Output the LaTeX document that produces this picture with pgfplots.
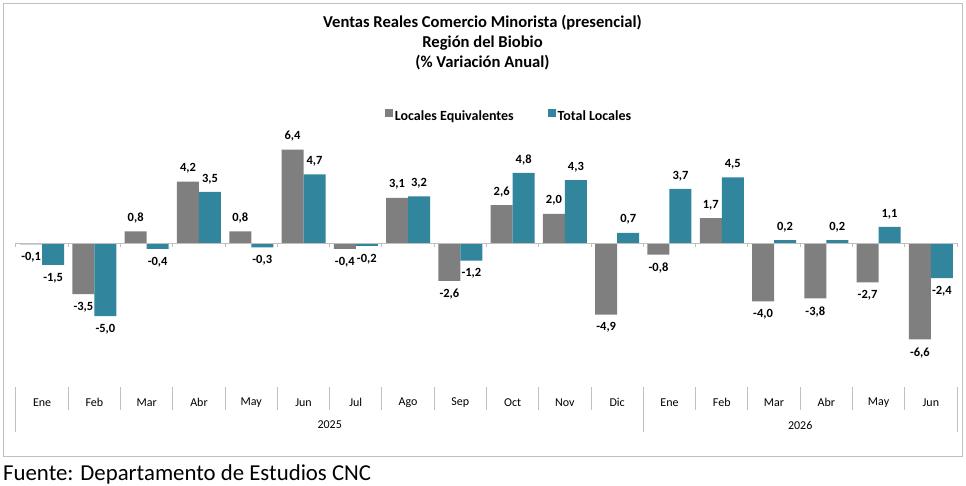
\documentclass[border=0pt]{standalone}
\usepackage{fontspec}
\setmainfont{Carlito}
\usepackage{pgfplots}
\pgfplotsset{compat=1.18}
\definecolor{cgray}{HTML}{7F7F7F}
\definecolor{cteal}{HTML}{31859C}
\definecolor{cline}{HTML}{BFBFBF}
\begin{document}
\begin{tikzpicture}[x=1pt,y=1pt]
\useasboundingbox (0,0) rectangle (966,-485);
\draw[color=cline, line width=1pt] (3,-3) rectangle (962,-456);
\node[font=\bfseries\fontsize{16.6}{19.7}\selectfont, align=center] at (482.5,-42.5) {Ventas Reales Comercio Minorista (presencial)\\Región del Biobio\\(\% Variación Anual)};
\node[anchor=base west, font=\fontsize{22.8}{27}\selectfont, inner sep=0] at (3,-480) {Fuente: Departamento de Estudios CNC};
\begin{axis}[
  at={(16pt,-352.5pt)}, anchor=south west,
  scale only axis, width=941pt, height=219pt,
  xmin=-0.5, xmax=17.5, ymin=-7.5, ymax=7.5,
  axis line style={draw=none},
  ytick=\empty,
  xtick={0,...,17},
  xticklabels={Ene,Feb,Mar,Abr,May,Jun,Jul,Ago,Sep,Oct,Nov,Dic,Ene,Feb,Mar,Abr,May,Jun},
  major tick length=0pt,
  xticklabel style={font=\fontsize{12}{14}\selectfont, anchor=center, yshift=-49.8pt},
  ybar=0pt, bar width=22pt,
  clip=false,
  /pgf/number format/use comma,
  /pgf/number format/fixed,
  /pgf/number format/fixed zerofill,
  /pgf/number format/precision=1,
  /pgf/number format/assume math mode=true,
  nodes near coords,
  every node near coord/.append style={font=\bfseries\fontsize{12.5}{14}\selectfont, inner xsep=1pt, inner ysep=8pt},
  legend style={at={(0.524,1.08)}, anchor=center, draw=none, fill=none, legend columns=2,
    font=\bfseries\fontsize{14}{16}\selectfont,
    nodes={inner sep=2pt},
    /tikz/every even column/.append style={column sep=32pt}},
  legend image code/.code={\fill[#1] (0pt,-1pt) rectangle (8pt,7pt);},
]
\addplot[fill=cgray, draw=none] coordinates {
(0,-0.1) (1,-3.5) (2,0.8) (3,4.2) (4,0.8) (5,6.4) (6,-0.4) (7,3.1) (8,-2.6)
(9,2.6) (10,2.0) (11,-4.9) (12,-0.8) (13,1.7) (14,-4.0) (15,-3.8) (16,-2.7) (17,-6.6)};
\addplot[fill=cteal, draw=none] coordinates {
(0,-1.5) (1,-5.0) (2,-0.4) (3,3.5) (4,-0.3) (5,4.7) (6,-0.2) (7,3.2) (8,-1.2)
(9,4.8) (10,4.3) (11,0.7) (12,3.7) (13,4.5) (14,0.2) (15,0.2) (16,1.1) (17,-2.4)};
\legend{Locales Equivalentes, Total Locales}
\draw[cline, line width=1pt] (axis cs:-0.5,0) -- (axis cs:17.5,0);
\pgfplotsinvokeforeach{-0.5,0.5,...,17.5}{
  \draw[cline, line width=1pt] (axis cs:#1,0) -- (axis cs:#1,-0.28);
  \draw[cline, line width=1pt] (axis cs:#1,-9.863) -- (axis cs:#1,-11.438);
}
\pgfplotsinvokeforeach{-0.5,11.5,17.5}{
  \draw[cline, line width=1pt] (axis cs:#1,-9.863) -- (axis cs:#1,-12.945);
}
\node[font=\fontsize{12}{14}\selectfont] at (axis cs:5.5,-12.47) {2025};
\node[font=\fontsize{12}{14}\selectfont] at (axis cs:14.5,-12.47) {2026};
\end{axis}
\end{tikzpicture}
\end{document}
